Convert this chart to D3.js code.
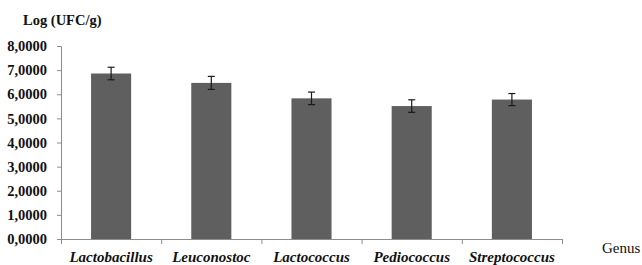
<!DOCTYPE html>
<html>
<head>
<meta charset="utf-8">
<script src="https://cdn.jsdelivr.net/npm/d3@7"></script>
<style>
  body { margin: 0; background: #fff; }
  svg { display: block; }
  svg text { font-family: "Liberation Serif", "Times New Roman", serif; }
</style>
</head>
<body>
<div id="main"></div>
<script>
const genera = ["Lactobacillus", "Leuconostoc", "Lactococcus", "Pediococcus", "Streptococcus"];
const means = [6.86, 6.47, 5.83, 5.51, 5.78];
const errors = [0.26, 0.27, 0.26, 0.26, 0.25];
const yTicks = [0, 1, 2, 3, 4, 5, 6, 7, 8];

const W = 642, H = 265;
const margin = { top: 46, right: 80, bottom: 26, left: 61 };
const width = W - margin.left - margin.right;
const height = H - margin.top - margin.bottom;
const fontFam = "Liberation Serif";

const svg = d3.select("#main").append("svg")
    .attr("width", W)
    .attr("height", H);

const g = svg.append("g")
    .attr("transform", `translate(${margin.left},${margin.top})`);

const x = d3.scaleBand()
    .domain(genera)
    .range([0, width])
    .paddingInner(0.6)
    .paddingOuter(0.3);

const y = d3.scaleLinear()
    .domain([0, 8])
    .range([height, 0]);

// bars
g.selectAll("rect.bar")
    .data(genera)
    .join("rect")
    .attr("class", "bar")
    .attr("x", d => x(d))
    .attr("y", (d, i) => y(means[i]))
    .attr("width", x.bandwidth())
    .attr("height", (d, i) => height - y(means[i]))
    .style("fill", "#5f5f5f");

// error bars
const eb = g.selectAll("g.err")
    .data(genera)
    .join("g")
    .attr("class", "err")
    .attr("transform", d => `translate(${x(d) + x.bandwidth() / 2},0)`)
    .style("stroke", "#1a1a1a")
    .style("stroke-width", 1.2);
eb.append("line")
    .attr("y1", (d, i) => y(means[i] + errors[i]))
    .attr("y2", (d, i) => y(means[i] - errors[i]));
eb.append("line")
    .attr("x1", -3.5).attr("x2", 3.5)
    .attr("y1", (d, i) => y(means[i] + errors[i]))
    .attr("y2", (d, i) => y(means[i] + errors[i]));
eb.append("line")
    .attr("x1", -3.5).attr("x2", 3.5)
    .attr("y1", (d, i) => y(means[i] - errors[i]))
    .attr("y2", (d, i) => y(means[i] - errors[i]));

// Y axis
const yAxis = g.append("g")
    .attr("font-family", fontFam)
    .call(d3.axisLeft(y)
        .tickValues(yTicks)
        .tickSizeInner(4)
        .tickSizeOuter(0)
        .tickPadding(10)
        .tickFormat(d => d3.format(".4f")(d).replace(".", ",")));
yAxis.attr("font-family", fontFam).attr("font-size", 14.5).attr("font-weight", "bold");
yAxis.select(".domain").attr("stroke", "#8c8c8c");
yAxis.selectAll(".tick line").attr("stroke", "#8c8c8c");
yAxis.selectAll("text").attr("fill", "#111");

// X axis: boundary ticks between categories
const xEdges = d3.scaleLinear().domain([0, genera.length]).range([0, width]);
const xAxis = g.append("g")
    .attr("transform", `translate(0,${height})`)
    .call(d3.axisBottom(xEdges).ticks(genera.length).tickSizeInner(5).tickSizeOuter(0).tickFormat(""));
xAxis.select(".domain").attr("stroke", "#8c8c8c");
xAxis.selectAll(".tick line").attr("stroke", "#8c8c8c");

// category labels
const xLabels = g.append("g")
    .attr("transform", `translate(0,${height})`)
    .call(d3.axisBottom(x).tickSize(0).tickPadding(12));
xLabels.attr("font-family", fontFam).attr("font-size", 15)
    .attr("font-weight", "bold").attr("font-style", "italic");
xLabels.select(".domain").remove();
xLabels.selectAll("text").attr("fill", "#111");

// axis titles
svg.append("text")
    .attr("x", 23)
    .attr("y", 25)
    .attr("font-family", fontFam)
    .attr("font-weight", "bold")
    .attr("font-size", 14.5)
    .attr("fill", "#111")
    .text("Log (UFC/g)");

svg.append("text")
    .attr("x", 602)
    .attr("y", 253)
    .attr("font-family", fontFam)
    .attr("font-size", 15)
    .attr("fill", "#111")
    .text("Genus");
</script>
</body>
</html>
